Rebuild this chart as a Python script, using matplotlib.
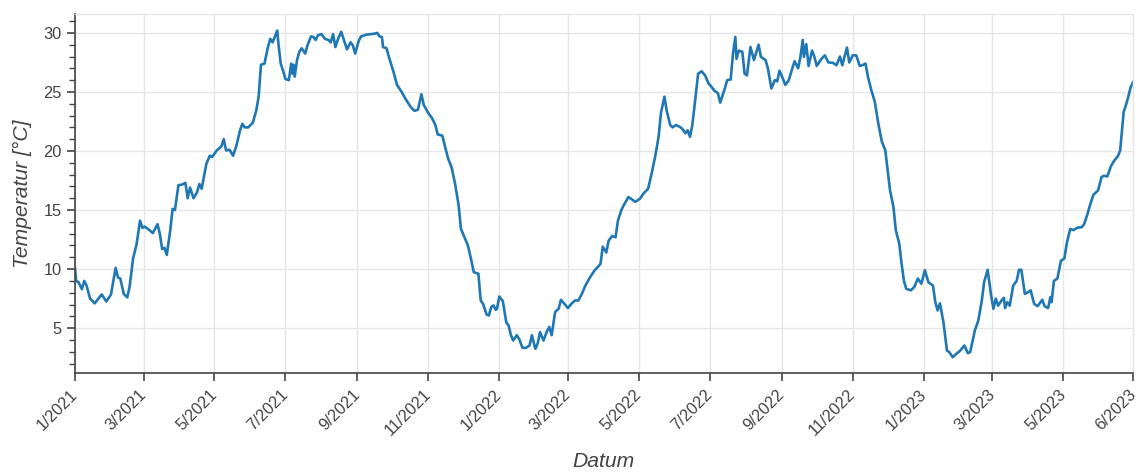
import matplotlib
matplotlib.use("Agg")
import matplotlib.pyplot as plt
import matplotlib.dates as mdates
import matplotlib.transforms as mtransforms
from matplotlib.ticker import MultipleLocator, FixedLocator
import pandas as pd

# ---- data ----
start_date = "2021-01-01"
end_date = "2023-06-30"
days = [0, 1, 3, 6, 8, 10, 13, 17, 23, 27, 31, 35, 37, 39, 42, 45, 47, 50, 53, 56,
        58, 60, 64, 67, 71, 73, 75, 77, 79, 82, 84, 86, 89, 92, 95, 97, 99, 102, 105, 107,
        109, 113, 116, 118, 122, 126, 128, 130, 133, 136, 139, 142, 144, 146, 149, 153, 156, 158, 160, 163,
        166, 168, 170, 172, 174, 175, 177, 179, 181, 184, 186, 187, 188, 189, 191, 193, 195, 198, 200, 203,
        205, 207, 209, 212, 215, 218, 220, 222, 224, 226, 229, 232, 234, 237, 239, 241, 244, 246, 251, 255,
        258, 260, 262, 264, 265, 268, 270, 274, 277, 281, 285, 289, 292, 295, 298, 300, 304, 307, 310, 312,
        316, 318, 321, 324, 327, 330, 332, 335, 338, 341, 343, 347, 349, 351, 354, 356, 358, 360, 362, 363,
        365, 368, 371, 373, 375, 377, 380, 382, 385, 388, 391, 393, 396, 398, 400, 403, 406, 408, 410, 413,
        416, 418, 421, 424, 427, 430, 433, 436, 439, 443, 447, 450, 452, 454, 457, 459, 462, 465, 467, 470,
        472, 476, 479, 482, 486, 489, 493, 496, 499, 502, 504, 507, 509, 512, 514, 517, 521, 523, 525, 527,
        529, 531, 533, 536, 539, 542, 545, 547, 550, 553, 555, 559, 561, 564, 566, 568, 569, 571, 574, 576,
        578, 581, 584, 588, 590, 594, 596, 599, 602, 604, 606, 609, 611, 614, 617, 619, 622, 624, 626, 627,
        629, 631, 634, 636, 638, 642, 645, 648, 652, 655, 658, 660, 664, 666, 669, 672, 675, 678, 680, 682,
        685, 688, 691, 694, 697, 699, 701, 704, 706, 709, 711, 713, 715, 719, 722, 725, 728, 731, 734, 738,
        740, 742, 744, 747, 750, 752, 755, 758, 761, 765, 768, 770, 774, 777, 780, 782, 785, 788, 790, 792,
        794, 797, 799, 800, 802, 804, 807, 810, 812, 814, 817, 820, 822, 825, 828, 832, 834, 837, 839, 840,
        842, 845, 848, 851, 853, 856, 859, 862, 866, 868, 871, 873, 876, 880, 883, 885, 888, 891, 894, 897,
        899, 902, 904, 906, 908, 910]
temps = [10.1, 9.0, 8.9, 8.3, 9.0, 8.6, 7.5, 7.1, 7.85, 7.26, 7.85, 10.1, 9.3, 9.2, 7.9, 7.6, 8.5, 10.9, 12.1, 14.1,
         13.5, 13.6, 13.3, 13.05, 13.8, 13.0, 11.7, 11.8, 11.2, 13.3, 15.1, 15.0, 17.1, 17.15, 17.3, 16.0, 16.9, 16.0, 16.5, 17.2,
         16.8, 18.9, 19.6, 19.5, 20.05, 20.4, 21.0, 20.05, 20.1, 19.6, 20.5, 21.75, 22.3, 22.0, 22.0, 22.4, 23.45, 24.6, 27.3, 27.4,
         28.8, 29.5, 29.2, 29.7, 30.2, 29.1, 27.4, 26.8, 26.1, 26.0, 27.4, 26.55, 27.3, 26.3, 27.7, 28.4, 28.7, 28.25, 28.95, 29.7,
         29.66, 29.4, 29.8, 29.9, 29.5, 29.4, 29.2, 29.9, 28.8, 29.4, 30.1, 29.2, 28.6, 29.2, 28.95, 28.25, 29.3, 29.7, 29.86, 29.9,
         29.94, 30.0, 29.7, 29.66, 28.8, 28.7, 27.97, 26.7, 25.6, 25.0, 24.3, 23.7, 23.4, 23.5, 24.8, 23.9, 23.2, 22.8, 22.2, 21.4,
         21.3, 20.5, 19.35, 18.6, 17.2, 15.4, 13.4, 12.7, 12.0, 10.7, 9.75, 9.6, 7.35, 7.06, 6.16, 6.07, 6.78, 6.92, 6.55, 6.64,
         7.68, 7.29, 5.5, 5.2, 4.4, 3.95, 4.4, 4.1, 3.33, 3.33, 3.53, 4.4, 3.25, 3.7, 4.66, 3.95, 4.75, 5.1, 4.4, 6.36,
         6.64, 7.4, 7.06, 6.7, 7.06, 7.34, 7.34, 7.9, 8.6, 9.3, 9.9, 10.2, 10.45, 11.9, 11.4, 12.4, 12.8, 12.7, 14.1, 15.0,
         15.4, 16.1, 15.9, 15.7, 15.96, 16.4, 16.8, 18.1, 19.5, 21.2, 23.2, 24.6, 23.4, 22.2, 22.0, 22.2, 22.0, 21.8, 21.5, 21.75,
         21.2, 22.2, 23.9, 26.55, 26.75, 26.4, 25.7, 25.5, 25.1, 24.9, 24.1, 25.3, 26.0, 26.05, 28.25, 29.66, 27.8, 28.5, 28.4, 26.55,
         26.4, 28.8, 27.7, 29.0, 27.97, 27.7, 27.0, 25.3, 26.0, 25.9, 26.8, 26.1, 25.6, 26.0, 27.0, 27.6, 27.0, 27.97, 29.4, 27.97,
         29.04, 27.2, 28.5, 27.97, 27.2, 27.8, 28.1, 27.5, 27.46, 27.26, 28.0, 27.26, 28.76, 27.5, 28.1, 28.1, 27.2, 27.3, 27.4, 26.3,
         25.14, 24.15, 22.3, 20.8, 20.05, 18.4, 16.7, 15.25, 13.3, 12.15, 10.45, 9.0, 8.33, 8.2, 8.5, 9.2, 8.76, 9.9, 8.9, 8.6,
         7.2, 6.5, 7.1, 5.5, 3.1, 2.97, 2.54, 2.82, 3.05, 3.53, 2.88, 2.97, 4.8, 5.65, 7.34, 8.9, 9.94, 7.77, 6.64, 7.5,
         6.9, 7.34, 7.57, 6.7, 7.2, 6.9, 8.6, 9.0, 9.94, 9.94, 7.9, 8.05, 8.2, 7.06, 6.86, 7.4, 6.86, 6.7, 7.63, 7.2,
         9.0, 9.2, 10.7, 10.9, 12.15, 13.4, 13.3, 13.5, 13.55, 13.8, 14.7, 15.4, 16.3, 16.66, 17.8, 17.9, 17.85, 18.7, 19.2, 19.55,
         20.05, 23.3, 23.9, 24.6, 25.4, 25.8]
tick_dates = ["2021-01-01", "2021-03-01", "2021-05-01", "2021-07-01", "2021-09-01", "2021-11-01",
              "2022-01-01", "2022-03-01", "2022-05-01", "2022-07-01", "2022-09-01", "2022-11-01",
              "2023-01-01", "2023-03-01", "2023-05-01", "2023-06-30"]
tick_labels = ["1/2021", "3/2021", "5/2021", "7/2021", "9/2021", "11/2021",
               "1/2022", "3/2022", "5/2022", "7/2022", "9/2022", "11/2022",
               "1/2023", "3/2023", "5/2023", "6/2023"]
y_ticks = [5, 10, 15, 20, 25, 30]

plt.rcParams['font.family'] = ['Liberation Sans', 'DejaVu Sans']

dates = pd.Timestamp(start_date) + pd.to_timedelta(days, unit="D")

fig = plt.figure(figsize=(11.39, 4.73), dpi=100)
ax = fig.add_axes([0.0658, 0.2114, 0.9289, 0.759])

ax.plot(dates, temps, color="#1f77b4", linewidth=1.9, solid_joinstyle="round")

ax.set_xlim(pd.Timestamp(start_date), pd.Timestamp(end_date))
ax.set_ylim(1.2, 31.6)

ax.xaxis.set_major_locator(FixedLocator(mdates.date2num(pd.to_datetime(tick_dates))))
ax.set_xticklabels(tick_labels, rotation=45, ha="right", va="top", rotation_mode="anchor")
ax.set_yticks(y_ticks)
ax.yaxis.set_minor_locator(MultipleLocator(1))

ax.grid(True, which="major", color="#e6e6e6", linewidth=1.0)
ax.set_axisbelow(True)

for side in ["top", "right"]:
    ax.spines[side].set_color("#e6e6e6")
    ax.spines[side].set_linewidth(1.0)
for side in ["left", "bottom"]:
    ax.spines[side].set_color("#444444")
    ax.spines[side].set_linewidth(1.2)

ax.tick_params(axis="both", which="major", direction="out", length=6, width=1.2,
               color="#444444", labelcolor="#444444", labelsize=11.8)
ax.tick_params(axis="y", which="minor", direction="out", length=4, width=1.0, color="#444444")
ax.tick_params(axis="x", which="major", pad=4)

# nudge rotated date labels a little to the left (as in the reference)
shift = mtransforms.ScaledTranslation(-0.05, 0, fig.dpi_scale_trans)
for lbl in ax.get_xticklabels():
    lbl.set_transform(lbl.get_transform() + shift)

ax.set_ylabel("Temperatur [°C]", fontsize=15.2, fontstyle="italic", color="#444444", labelpad=8)
ax.set_xlabel("Datum", fontsize=15.2, fontstyle="italic", color="#444444", labelpad=10)

fig.savefig("out.png", dpi=100, facecolor="white")
